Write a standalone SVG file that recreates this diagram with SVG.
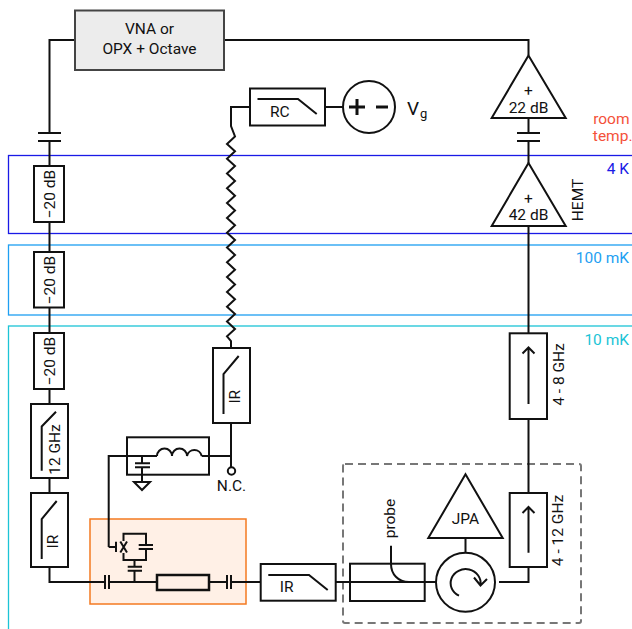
<svg xmlns="http://www.w3.org/2000/svg" width="632" height="629" viewBox="0 0 632 629">
<style>
text{font-family:Roboto,"Liberation Sans",sans-serif;font-size:15.500px;fill:#111;text-anchor:middle}
.b{fill:#fff;stroke:#111;stroke-width:2}
.n{fill:none;stroke:#111;stroke-width:2}
.zl{text-anchor:end}
</style>
<g id="zones" fill="none" stroke-width="1.3">
<rect x="8.500" y="155.500" width="640" height="78" stroke="#1a1ae6"/>
<rect x="8.500" y="245" width="640" height="70" stroke="#1e9ff2"/>
<rect x="8.500" y="326" width="640" height="320" stroke="#1cc4d6"/>
<rect id="sample" x="90" y="519" width="156" height="85" fill="#fff0e6" stroke="#f47a20" stroke-width="1.500"/>
<rect id="jpa-box" x="343" y="464" width="238" height="159" rx="2" stroke="#777" stroke-width="2" stroke-dasharray="8 5"/>
</g>
<g id="connectors" fill="none" stroke="#111" stroke-width="2">
<path d="M75 40H49.500V133M49.500 141V166M49.500 222V252M49.500 307.500V333M49.500 389V404M49.500 478V493M49.500 567V582H105M109 582H157M209 582H227M231 582H261M336 582H436"/>
<path d="M224 40H528.500V55.500M528.500 118V133M528.500 141V163M528.500 226V333M528.500 419V493M528.500 567V582H499M465.500 538V553"/>
<path d="M250 107H231V126L235 136.500L227 144L235 151.300L227 158.700L235 166.100L227 173.500L235 180.900L227 188.300L235 195.700L227 203.100L235 210.500L227 217.900L235 225.300L227 232.700L235 240.100L227 247.500L235 254.900L227 262.300L235 269.700L227 277.100L235 284.500L227 291.900L235 299.300L227 306.700L235 314.100L227 321.500L235 328.900L227 336.300L231 341V348"/>
<path d="M325 107H343"/>
<path d="M231 423V467.300M209 456H231"/>
<path d="M108.700 547V456H157M201.700 456H209M108.700 547H116"/>
<path d="M134.500 560V566.500M134.500 571V582"/>
<path d="M142 456V463M142 467.500V482"/>
</g>
<g id="source">
<rect class="b" x="75" y="10.500" width="149" height="59.500" style="fill:#ececec;stroke:#444"/>
<text x="149.500" y="34">VNA or</text><text x="149.500" y="54">OPX + Octave</text>
</g>
<g id="cap-in" class="n"><path d="M38 133H61M38 141H61"/></g>
<g id="att1"><rect class="b" x="34" y="166" width="30" height="56"/><text transform="translate(55 194) rotate(-90)">−20 dB</text></g>
<g id="att2"><rect class="b" x="34" y="252" width="30" height="55.500"/><text transform="translate(55 280) rotate(-90)">−20 dB</text></g>
<g id="att3"><rect class="b" x="34" y="333" width="30" height="56"/><text transform="translate(55 361) rotate(-90)">−20 dB</text></g>
<g id="lp12"><rect class="b" x="31" y="404" width="37" height="74"/><path class="n" d="M41.700 470.700V426.500L56 411.700"/><text transform="translate(60 449.500) rotate(-90)">12 GHz</text></g>
<g id="ir1"><rect class="b" x="31" y="493" width="37" height="74"/><path class="n" d="M41.700 559V519L56.700 501"/><text transform="translate(58.300 541.500) rotate(-90)">IR</text></g>
<g id="rc"><rect class="b" x="250" y="88.500" width="75" height="37"/><path class="n" d="M257.500 99H298L316.700 114"/><text x="279.700" y="116.700">RC</text></g>
<g id="vg"><circle class="b" cx="369" cy="107" r="26"/><path class="n" d="M349 107H365M357 99V115" style="stroke-width:3"/><path class="n" d="M376 107H388" style="stroke-width:3"/><text x="407" y="115" style="text-anchor:start;font-size:19px">V</text><text x="420" y="118" style="text-anchor:start;font-size:13px">g</text></g>
<g id="ir2"><rect class="b" x="213" y="348" width="37" height="75"/><path class="n" d="M223.500 414V374L238.700 356"/><text transform="translate(240 396.700) rotate(-90)">IR</text></g>
<g id="nc"><circle class="b" cx="231.500" cy="471" r="3.700"/><text x="231.500" y="491">N.C.</text></g>
<g id="bias-tee"><rect class="n" x="127" y="437.300" width="82" height="37.400"/><path class="n" d="M157 456A7.500 7.500 0 0 1 172 456A7.500 7.500 0 0 1 187 456A7.500 7.500 0 0 1 201.700 456"/><path class="n" d="M135 463.300H150M135 467.300H150"/><path class="n" d="M134 482H150L142 490Z"/></g>
<g id="transmon" class="n">
<path d="M105 575V589M109 575V589M227 575V589M231 575V589"/>
<path d="M123.500 541V533.700H146V545M146 549V560H123.500V553"/>
<path d="M138.700 545H153M138.700 549H153"/>
<path d="M127.700 566.700H142M127.700 570.700H142"/>
<path d="M116 541.700V552"/>
<path d="M120.300 541.500L127 552.500M127 541.500L120.300 552.500" style="stroke-width:2"/>
<rect x="157" y="575" width="52" height="15" fill="#fff0e6" stroke-width="2.500"/>
</g>
<g id="ir3"><rect class="b" x="260.700" y="564" width="75" height="36.700"/><path class="n" d="M268.300 575H309L327.700 590"/><text x="286.700" y="591.700">IR</text></g>
<g id="coupler"><rect class="n" x="350" y="563.700" width="74.700" height="37.300"/><path class="n" d="M391 545.700V564C391 574 398 582 409 582"/><text transform="translate(395 518.500) rotate(-90)">probe</text></g>
<g id="circulator"><circle class="b" cx="465.500" cy="582.300" r="29.500"/><path class="n" d="M459 595.700A15 14 0 1 1 480.500 585M474 577.500L480.500 585.500L487 579"/></g>
<g id="jpa"><path class="b" d="M465.500 474.300L502.700 538H428.300Z"/><text x="465.500" y="524">JPA</text></g>
<g id="iso12"><rect class="b" x="509.700" y="493" width="37.300" height="74"/><path class="n" d="M528.500 552.700V507M522.500 513L528.500 507L534.500 513"/><text transform="translate(563 530.500) rotate(-90)">4 - 12 GHz</text></g>
<g id="iso8"><rect class="b" x="509.700" y="333.300" width="37.300" height="85.700"/><path class="n" d="M528.500 404V347.500M522.500 353.500L528.500 347.500L534.500 353.500"/><text transform="translate(564 374.500) rotate(-90)">4 - 8 GHz</text></g>
<g id="amp22"><path class="b" d="M528.500 55.500L565.700 118H491.700Z"/><text x="528.500" y="96">+</text><text x="528.500" y="112.700">22 dB</text></g>
<g id="cap-out" class="n"><path d="M517 133H540M517 141H540"/></g>
<g id="hemt"><path class="b" d="M528.500 163L565.700 226H491.700Z"/><text x="528.500" y="203.500">+</text><text x="528.500" y="220">42 dB</text><text transform="translate(582.700 200) rotate(-90)">HEMT</text></g>
<g id="labels">
<text class="zl" x="629.500" y="124.300" style="fill:#f4513a">room</text><text class="zl" x="632.500" y="140.700" style="fill:#f4513a">temp.</text>
<text class="zl" x="629" y="174" style="fill:#1a1ae6">4 K</text>
<text class="zl" x="629" y="263" style="fill:#1e9ff2">100 mK</text>
<text class="zl" x="629" y="345" style="fill:#1cc4d6">10 mK</text>
</g>
</svg>
